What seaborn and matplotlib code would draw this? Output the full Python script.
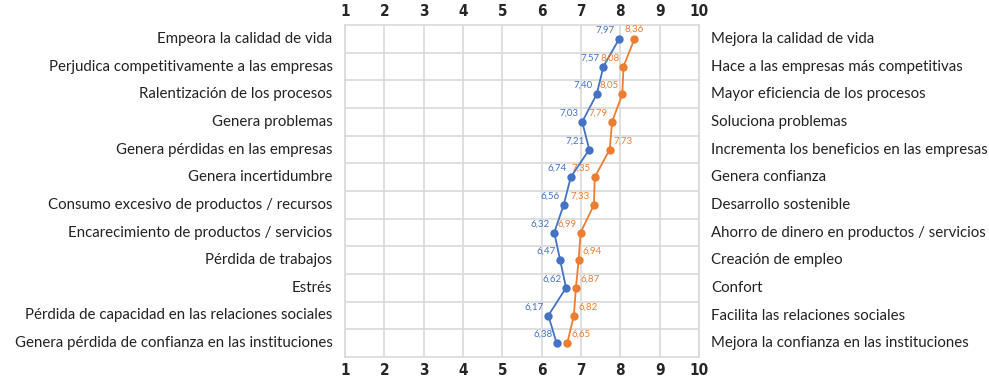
import matplotlib
matplotlib.use("Agg")
import matplotlib.pyplot as plt
import seaborn as sns
import pandas as pd

left_labels = [
    "Empeora la calidad de vida",
    "Perjudica competitivamente a las empresas",
    "Ralentización de los procesos",
    "Genera problemas",
    "Genera pérdidas en las empresas",
    "Genera incertidumbre",
    "Consumo excesivo de productos / recursos",
    "Encarecimiento de productos / servicios",
    "Pérdida de trabajos",
    "Estrés",
    "Pérdida de capacidad en las relaciones sociales",
    "Genera pérdida de confianza en las instituciones",
]
right_labels = [
    "Mejora la calidad de vida",
    "Hace a las empresas más competitivas",
    "Mayor eficiencia de los procesos",
    "Soluciona problemas",
    "Incrementa los beneficios en las empresas",
    "Genera confianza",
    "Desarrollo sostenible",
    "Ahorro de dinero en productos / servicios",
    "Creación de empleo",
    "Confort",
    "Facilita las relaciones sociales",
    "Mejora la confianza en las instituciones",
]
blue_vals = [7.97, 7.57, 7.40, 7.03, 7.21, 6.74, 6.56, 6.32, 6.47, 6.62, 6.17, 6.38]
orange_vals = [8.36, 8.08, 8.05, 7.79, 7.73, 7.35, 7.33, 6.99, 6.94, 6.87, 6.82, 6.65]
# where the orange value label sits relative to the point
orange_side = ["up", "left", "left", "left", "right", "left", "left", "left",
               "right", "right", "right", "right"]

BLUE = "#4472C4"
ORANGE = "#ED7D31"

rows = list(range(len(left_labels)))
df = pd.DataFrame({"row": rows * 2,
                   "value": blue_vals + orange_vals,
                   "serie": ["a"] * len(rows) + ["b"] * len(rows)})

sns.set_style("white")
plt.rcParams["font.family"] = ["Lato", "DejaVu Sans"]

fig = plt.figure(figsize=(9.89, 3.81), dpi=100)
ax = fig.add_axes([345 / 989, 1 - 357 / 381, 354 / 989, 332 / 381])

sns.lineplot(data=df, x="value", y="row", hue="serie", sort=False, orient="y",
             palette=[BLUE, ORANGE], marker="o", markersize=6,
             markeredgewidth=0, linewidth=1.3, legend=False, ax=ax)

ax.set_xlim(1, 10)
ax.set_ylim(len(rows) - 0.5, -0.5)
ax.set_xticks(range(1, 11))
ax.set_yticks([i + 0.5 for i in rows[:-1]])
ax.set_yticklabels([])
ax.tick_params(axis="y", length=0)
ax.grid(True, color="#D9D9D9", linewidth=1.2)
for s in ax.spines.values():
    s.set_color("#D9D9D9")
    s.set_linewidth(1.2)
ax.set_xlabel("")
ax.set_ylabel("")
ax.tick_params(axis="x", length=0, labeltop=True, labelbottom=True, pad=4)
for lab in ax.get_xticklabels():
    lab.set_fontfamily("DejaVu Sans")
    lab.set_fontstretch("condensed")
    lab.set_fontweight("heavy")
    lab.set_fontsize(11)

for i in rows:
    ax.text(-0.035, i, left_labels[i], transform=ax.get_yaxis_transform(),
            ha="right", va="center", fontsize=10.8, color="#222222")
    ax.text(1.035, i, right_labels[i], transform=ax.get_yaxis_transform(),
            ha="left", va="center", fontsize=10.8, color="#222222")
    ax.annotate(f"{blue_vals[i]:.2f}".replace(".", ","), (blue_vals[i], i),
                xytext=(-3, 3), textcoords="offset points", ha="right",
                va="bottom", fontsize=7, color=BLUE)
    side = orange_side[i]
    if side == "up":
        off, ha = (0, 4), "center"
    elif side == "left":
        off, ha = (-3, 3), "right"
    else:
        off, ha = (3, 3), "left"
    ax.annotate(f"{orange_vals[i]:.2f}".replace(".", ","), (orange_vals[i], i),
                xytext=off, textcoords="offset points", ha=ha,
                va="bottom", fontsize=7, color=ORANGE)

fig.savefig("out.png", dpi=100)
